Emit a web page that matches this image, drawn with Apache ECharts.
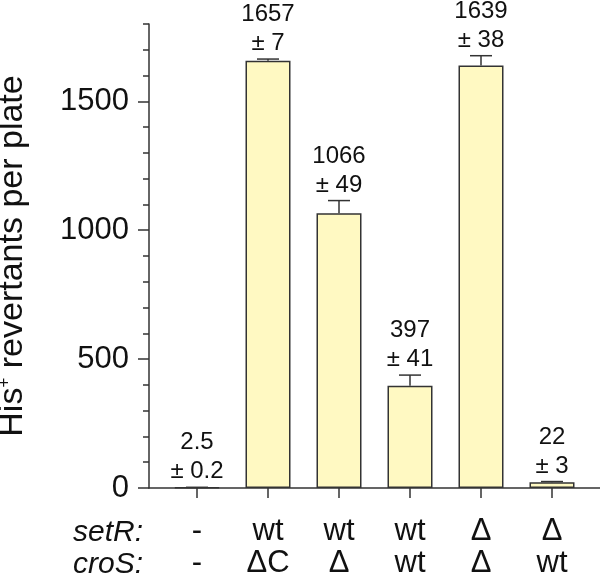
<!DOCTYPE html>
<html><head><meta charset="utf-8">
<script src="https://cdn.jsdelivr.net/npm/echarts@6/dist/echarts.min.js"></script>
<style>html,body{margin:0;padding:0;background:#fff}#c{width:600px;height:576px}</style>
</head><body><div id="c"></div>
<script>
const setR = ['-', 'wt', 'wt', 'wt', 'Δ', 'Δ'];
const croS = ['-', 'ΔC', 'Δ', 'wt', 'Δ', 'wt'];
const values = [2.5, 1657, 1066, 397, 1639, 22];
const errors = [0.2, 7, 49, 41, 38, 3];
const valueLabels = ['2.5', '1657', '1066', '397', '1639', '22'];
const errorLabels = ['0.2', '7', '49', '41', '38', '3'];
const yTicks = [0, 500, 1000, 1500];
const rowLabels = ['setR:', 'croS:'];

const categories = setR.map((s, i) => s + '\n' + croS[i]);
const FONT = '"Liberation Sans", Arial, Helvetica, sans-serif';
const AX = { color: '#333', width: 1.5 };

const chart = echarts.init(document.getElementById('c'), null, { renderer: 'canvas' });
const option = {
  animation: false,
  backgroundColor: '#fff',
  textStyle: { fontFamily: FONT },
  grid: [
    { left: 149, right: 0, top: 24, bottom: 88, containLabel: false, outerBoundsMode: 'none' },
    { left: 161.5, right: 12.5, top: 24, bottom: 88, containLabel: false, outerBoundsMode: 'none' }
  ],
  xAxis: [
    { gridIndex: 0, type: 'value', min: 0, max: 1,
      axisLine: { show: true, lineStyle: AX }, axisTick: { show: false },
      axisLabel: { show: false }, splitLine: { show: false } },
    { gridIndex: 1, type: 'category', data: categories,
      axisLine: { show: false },
      axisTick: { show: true, alignWithLabel: true, length: 10, lineStyle: AX },
      axisLabel: { margin: 27, fontSize: 31, lineHeight: 32, color: '#111', fontFamily: FONT, interval: 0 },
      splitLine: { show: false } }
  ],
  yAxis: [
    { gridIndex: 0, type: 'value', min: 0, max: 1800, interval: 100,
      axisLine: { show: true, lineStyle: AX },
      axisTick: { show: true, length: 6, lineStyle: AX },
      axisLabel: { show: false }, splitLine: { show: false } },
    { gridIndex: 0, type: 'value', position: 'left', min: 0, max: 1800, interval: 500,
      axisLine: { show: false },
      axisTick: { show: true, length: 11, customValues: yTicks, lineStyle: AX },
      axisLabel: { customValues: yTicks, fontSize: 31, margin: 20, color: '#111', fontFamily: FONT,
                   formatter: v => String(v) },
      splitLine: { show: false },
      name: '{n|His}{s|+}{n| revertants per plate}',
      nameLocation: 'middle', nameGap: 119, nameRotate: 90,
      nameTextStyle: {
        rich: {
          n: { fontSize: 34, color: '#111', fontFamily: FONT },
          s: { fontSize: 17, color: '#111', fontFamily: FONT, verticalAlign: 'top', padding: [0, 0, 10, 0] }
        }
      } },
    { gridIndex: 1, type: 'value', min: 0, max: 1800, show: false }
  ],
  series: [
    { type: 'bar', xAxisIndex: 1, yAxisIndex: 2, data: values, barWidth: 45,
      itemStyle: { color: '#FFF9C2', borderColor: '#333', borderWidth: 1.5 } },
    { type: 'custom', xAxisIndex: 1, yAxisIndex: 2, clip: false,
      data: values.map((v, i) => [i, v, errors[i]]),
      renderItem: function (params, api) {
        const i = api.value(0), v = api.value(1), e = api.value(2);
        const base = api.coord([i, v]);
        const top = api.coord([i, v + e]);
        const cap = 11;
        return { type: 'group', children: [
          { type: 'line', shape: { x1: base[0], y1: base[1], x2: top[0], y2: top[1] }, style: { stroke: '#333', lineWidth: 1.5 } },
          { type: 'line', shape: { x1: top[0] - cap, y1: top[1], x2: top[0] + cap, y2: top[1] }, style: { stroke: '#333', lineWidth: 1.5 } },
          { type: 'text', x: top[0], y: top[1] - 1,
            style: { text: valueLabels[i] + '\n± ' + errorLabels[i], align: 'center', verticalAlign: 'bottom',
                     fontSize: 24, lineHeight: 29, fontFamily: FONT, fill: '#111' } }
        ] };
      } }
  ],
  graphic: rowLabels.map((t, k) => ({
    type: 'text', x: 143, y: 533 + k * 32,
    style: { text: t, align: 'right', verticalAlign: 'middle', font: 'italic 30px ' + FONT, fill: '#111' }
  }))
};
chart.setOption(option);
</script>
</body></html>
